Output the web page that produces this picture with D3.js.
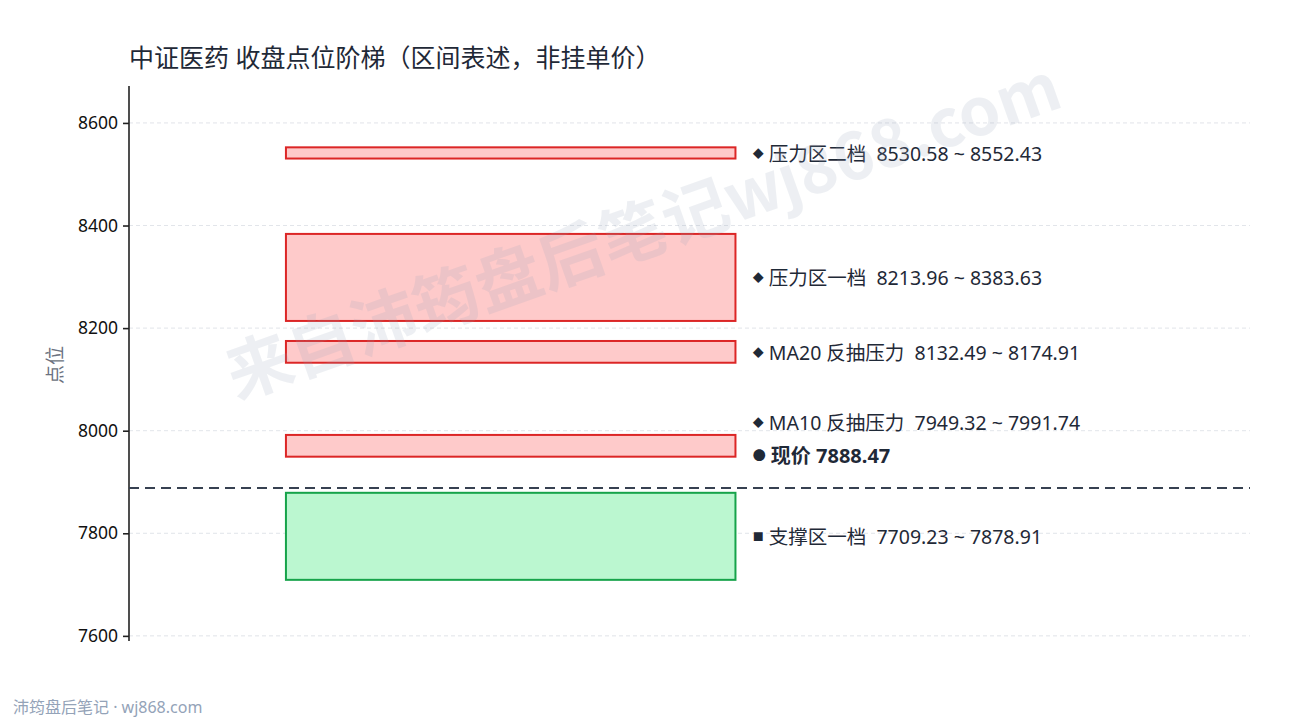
<!DOCTYPE html>
<html>
<head>
<meta charset="utf-8">
<script src="https://cdn.jsdelivr.net/npm/d3@7"></script>
<style>
  html, body { margin: 0; padding: 0; background: #fff; }
  svg { display: block; font-family: "Noto Sans", "Noto Sans CJK SC", sans-serif; }
  text { white-space: pre; }
</style>
</head>
<body>
<svg id="chart" width="1290" height="720"></svg>
<script>
// zone data (index points)
const zoneNames = ["压力区二档", "压力区一档", "MA20 反抽压力", "MA10 反抽压力", "支撑区一档"]
const zoneLow = [8530.58, 8213.96, 8132.49, 7949.32, 7709.23]
const zoneHigh = [8552.43, 8383.63, 8174.91, 7991.74, 7878.91]
const zoneKind = ["res", "res", "res", "res", "sup"]
const currentPrice = 7888.47
const yTicks = [7600, 7800, 8000, 8200, 8400, 8600]
const yDomain = [7590, 8672]

const W = 1290, H = 720
const MARGIN = { LEFT: 129, RIGHT: 40, TOP: 86, BOTTOM: 79 }
const WIDTH = W - MARGIN.LEFT - MARGIN.RIGHT
const HEIGHT = H - MARGIN.TOP - MARGIN.BOTTOM

const svg = d3.select("#chart")

const g = svg.append("g")
  .attr("transform", `translate(${MARGIN.LEFT}, ${MARGIN.TOP})`)

const x = d3.scaleLinear().domain([0, 1]).range([0, WIDTH])
const y = d3.scaleLinear().domain(yDomain).range([HEIGHT, 0])

// grid
g.append("g")
  .selectAll("line")
  .data(yTicks)
  .join("line")
  .attr("x1", 0).attr("x2", WIDTH)
  .attr("y1", d => y(d)).attr("y2", d => y(d))
  .attr("stroke", "#d9dde3")
  .attr("stroke-width", 0.8)
  .attr("stroke-dasharray", "4,3")

// y axis
const yAxis = g.append("g")
  .call(d3.axisLeft(y).tickValues(yTicks).tickSize(6).tickPadding(5).tickFormat(d3.format("d")))
yAxis.select(".domain").attr("stroke", "#222").attr("stroke-width", 1.6).attr("d", `M0,0V${HEIGHT}`)
yAxis.selectAll(".tick line").attr("stroke", "#222").attr("stroke-width", 1.6)
yAxis.selectAll(".tick text").attr("font-size", "17.5px").attr("fill", "#111")
  .attr("font-family", "'Noto Sans', sans-serif")

// zones
const zones = zoneNames.map((name, i) => ({
  name, lo: zoneLow[i], hi: zoneHigh[i], kind: zoneKind[i]
}))

g.append("g")
  .selectAll("rect")
  .data(zones)
  .join("rect")
  .attr("x", x(0.14))
  .attr("width", x(0.541) - x(0.14))
  .attr("y", d => y(d.hi))
  .attr("height", d => y(d.lo) - y(d.hi))
  .attr("fill", d => d.kind === "res" ? "#fecaca" : "#bbf7d0")
  .attr("stroke", d => d.kind === "res" ? "#dc2626" : "#16a34a")
  .attr("stroke-width", 2)

// watermark, drawn over the boxes
svg.append("text")
  .attr("transform", "translate(645,236) rotate(-19.5)")
  .attr("text-anchor", "middle")
  .attr("dominant-baseline", "middle")
  .attr("font-family", "'Noto Sans CJK SC', sans-serif")
  .attr("font-size", "66px")
  .attr("font-weight", "bold")
  .attr("fill", "#94a3b8")
  .attr("opacity", 0.16)
  .text("来自沛筠盘后笔记wj868.com")

// current price line
g.append("line")
  .attr("x1", 0).attr("x2", WIDTH)
  .attr("y1", y(currentPrice)).attr("y2", y(currentPrice))
  .attr("stroke", "#374151")
  .attr("stroke-width", 2)
  .attr("stroke-dasharray", "10,6")

// labels, pushed apart so they don't overlap
const fmt = d3.format(".2f")
const labels = zones.map(d => ({
  text: `${d.name}  ${fmt(d.lo)} ~ ${fmt(d.hi)}`,
  marker: d.kind === "res" ? "◆" : "■",
  py: y((d.lo + d.hi) / 2),
  bold: false
}))
labels.push({ text: `现价 ${fmt(currentPrice)}`, marker: "●", py: y(currentPrice) - 33, bold: true })

const GAP = 33
labels.sort((a, b) => b.py - a.py)
for (let i = 1; i < labels.length; i++) {
  if (labels[i - 1].py - labels[i].py < GAP) labels[i].py = labels[i - 1].py - GAP
}

const lab = g.append("g")
  .selectAll("text")
  .data(labels)
  .join("text")
  .attr("x", x(0.5565))
  .attr("y", d => d.py)
  .attr("dominant-baseline", "central")
  .attr("font-size", d => d.bold ? "20px" : "19.5px")
  .attr("fill", "#1f2937")
  .attr("font-weight", d => d.bold ? "bold" : "normal")

lab.append("tspan")
  .attr("font-size", d => d.marker === "●" ? "13px" : "11px")
  .text(d => d.marker)
lab.append("tspan")
  .attr("dx", 5)
  .text(d => d.text)

// y label
svg.append("text")
  .attr("transform", "translate(55,365) rotate(-90)")
  .attr("text-anchor", "middle")
  .attr("dominant-baseline", "central")
  .attr("font-size", "19px")
  .attr("fill", "#6b7280")
  .text("点位")

// title
svg.append("text")
  .attr("x", 129)
  .attr("y", 57)
  .attr("dominant-baseline", "central")
  .attr("font-size", "25px")
  .attr("fill", "#1f2937")
  .text("中证医药 收盘点位阶梯（区间表述，非挂单价）")

// footer
svg.append("text")
  .attr("x", 13)
  .attr("y", 707)
  .attr("dominant-baseline", "central")
  .attr("font-size", "16px")
  .attr("fill", "#94a3b8")
  .text("沛筠盘后笔记 · wj868.com")
</script>
</body>
</html>
